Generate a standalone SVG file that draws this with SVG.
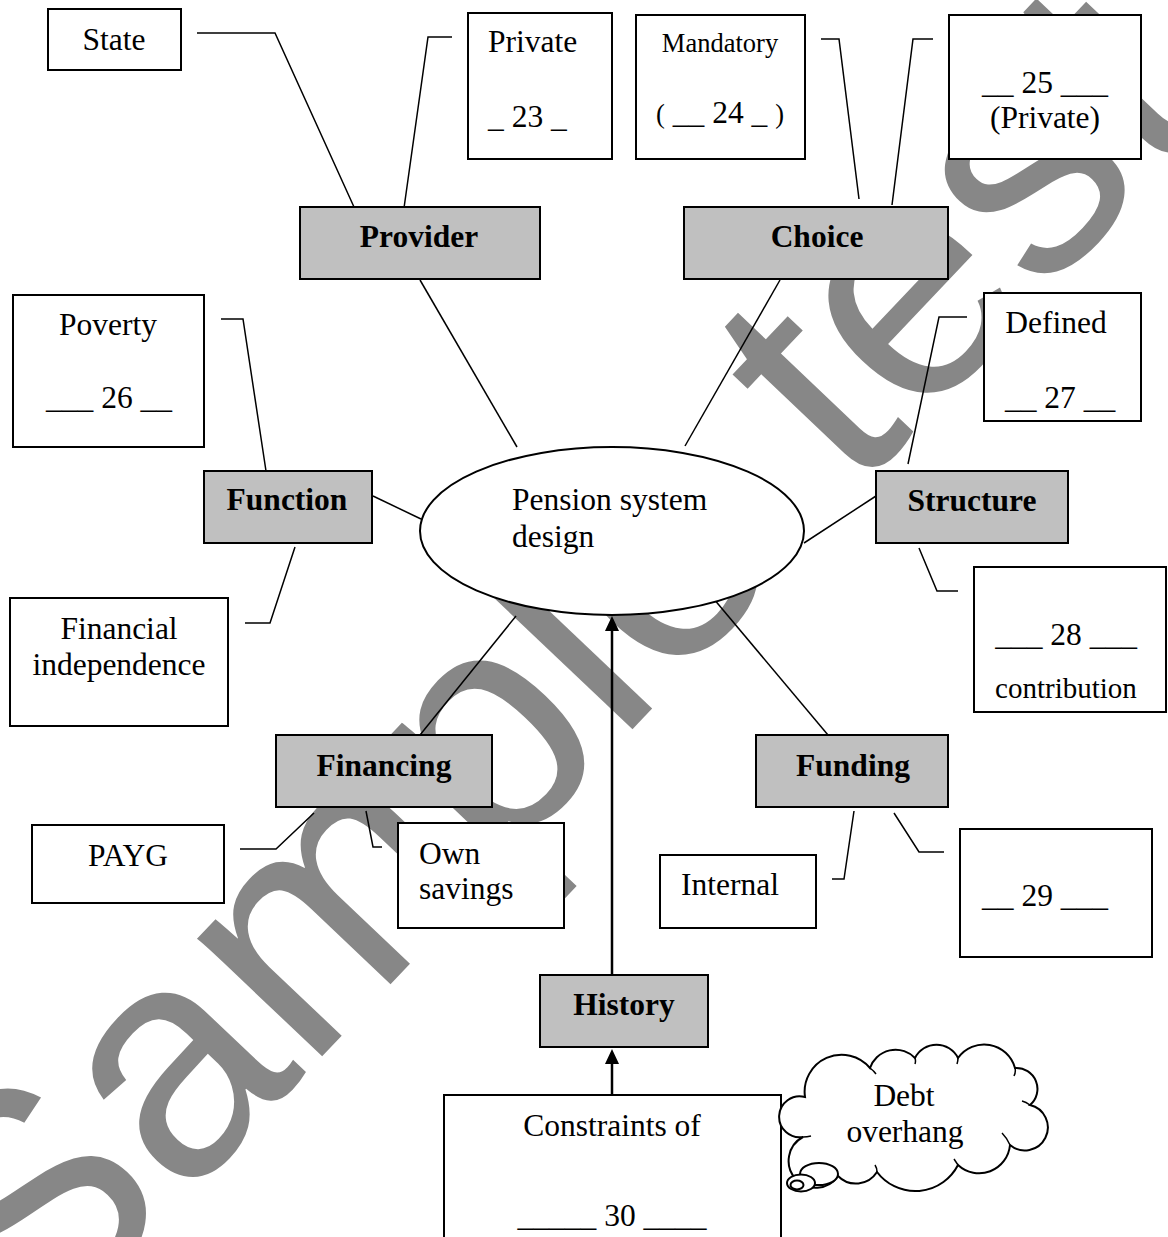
<svg xmlns="http://www.w3.org/2000/svg" width="1168" height="1237" viewBox="0 0 1168 1237">
<style>
.box{fill:#fff;stroke:#000;stroke-width:2}
.cat{fill:#c0c0c0;stroke:#000;stroke-width:2}
.t{font-family:"Liberation Serif","Times New Roman",serif;font-size:31.5px;fill:#000}
.b{font-weight:bold}
.c{text-anchor:middle}
.sm{font-size:26.5px}
.conn{fill:none;stroke:#000;stroke-width:1.5}
.arrow{fill:none;stroke:#000;stroke-width:2.5}
.wm{font-family:"Liberation Sans",Arial,sans-serif;font-size:325px;fill:#878787}
.cloud{fill:#fff;stroke:#000;stroke-width:2}
</style>
<defs>
<marker id="arr" markerUnits="userSpaceOnUse" markerWidth="16" markerHeight="16" refX="1" refY="7" orient="auto">
<path d="M0,0 L15,7 L0,14 z" fill="#000"/>
</marker>
</defs>
<rect width="1168" height="1237" fill="#fff"/>
<text class="wm" transform="translate(33,1361) rotate(-46.5)">Sample test</text>

<g id="connectors">
<polyline class="conn" points="197,33 275,33 354,207"/>
<polyline class="conn" points="452,37 428,37 404,208"/>
<polyline class="conn" points="821,39 839,39 859,199"/>
<polyline class="conn" points="933,39 913,39 892,205"/>
<line class="conn" x1="420" y1="280" x2="517" y2="447"/>
<line class="conn" x1="780" y1="280" x2="685" y2="446"/>
<polyline class="conn" points="221,319 243,319 266,471"/>
<line class="conn" x1="373" y1="496" x2="421" y2="519"/>
<polyline class="conn" points="295,547 270,623 245,623"/>
<polyline class="conn" points="967,317 939,317 908,464"/>
<line class="conn" x1="804" y1="543" x2="876" y2="496"/>
<polyline class="conn" points="919,548 937,591 958,591"/>
<line class="conn" x1="516" y1="616" x2="420" y2="735"/>
<line class="conn" x1="708" y1="592" x2="828" y2="735"/>
<polyline class="conn" points="240,849 276,849 314,813"/>
<polyline class="conn" points="366,811 373,847 382,847"/>
<polyline class="conn" points="854,811 844,879 832,879"/>
<polyline class="conn" points="894,813 919,852 944,852"/>
<line class="arrow" x1="612" y1="975" x2="612" y2="630" marker-end="url(#arr)"/>
<line class="arrow" x1="612" y1="1095" x2="612" y2="1063" marker-end="url(#arr)"/>
</g>

<g id="state"><rect class="box" x="48" y="9" width="133" height="61"/><text class="t c" x="114" y="50">State</text></g>
<g id="private23"><rect class="box" x="468" y="13" width="144" height="146"/><text class="t" x="488" y="52">Private</text><text class="t" x="488" y="127">_ 23 _</text></g>
<g id="mandatory24"><rect class="box" x="636" y="15" width="169" height="144"/><text class="t c sm" x="720" y="52">Mandatory</text><text class="t c" x="720" y="123"><tspan class="sm">(</tspan> __ 24 _ <tspan class="sm">)</tspan></text></g>
<g id="private25"><rect class="box" x="949" y="15" width="192" height="144"/><text class="t c" x="1045" y="93">__ 25 ___</text><text class="t c" x="1045" y="128">(Private)</text></g>
<g id="provider"><rect class="cat" x="300" y="207" width="240" height="72"/><text class="t b c" x="419" y="247">Provider</text></g>
<g id="choice"><rect class="cat" x="684" y="207" width="264" height="72"/><text class="t b c" x="817" y="247">Choice</text></g>
<g id="poverty26"><rect class="box" x="13" y="295" width="191" height="152"/><text class="t c" x="108" y="335">Poverty</text><text class="t c" x="109" y="408">___ 26 __</text></g>
<g id="function"><rect class="cat" x="204" y="471" width="168" height="72"/><text class="t b c" x="287" y="510">Function</text></g>
<g id="financial"><rect class="box" x="10" y="598" width="218" height="128"/><text class="t c" x="119" y="639">Financial</text><text class="t c" x="119" y="675">independence</text></g>
<g id="pension"><ellipse cx="612" cy="531" rx="192" ry="84" fill="#fff" stroke="#000" stroke-width="2"/><text class="t" x="512" y="510">Pension system</text><text class="t" x="512" y="547">design</text></g>
<g id="defined27"><rect class="box" x="984" y="293" width="157" height="128"/><text class="t c" x="1056" y="333">Defined</text><text class="t c" x="1060" y="408">__ 27 __</text></g>
<g id="structure"><rect class="cat" x="876" y="471" width="192" height="72"/><text class="t b c" x="972" y="511">Structure</text></g>
<g id="contribution28"><rect class="box" x="974" y="567" width="192" height="145"/><text class="t c" x="1066" y="645">___ 28 ___</text><text class="t c" x="1066" y="698" style="font-size:29px">contribution</text></g>
<g id="financing"><rect class="cat" x="276" y="735" width="216" height="72"/><text class="t b c" x="384" y="776">Financing</text></g>
<g id="payg"><rect class="box" x="32" y="825" width="192" height="78"/><text class="t c" x="128" y="866">PAYG</text></g>
<g id="ownsavings"><rect class="box" x="398" y="823" width="166" height="105"/><text class="t" x="419" y="864">Own</text><text class="t" x="419" y="899">savings</text></g>
<g id="funding"><rect class="cat" x="756" y="735" width="192" height="72"/><text class="t b c" x="853" y="776">Funding</text></g>
<g id="internal"><rect class="box" x="660" y="855" width="156" height="73"/><text class="t" x="681" y="895">Internal</text></g>
<g id="external29"><rect class="box" x="960" y="829" width="192" height="128"/><text class="t c" x="1045" y="906">__ 29 ___</text></g>
<g id="history"><rect class="cat" x="540" y="975" width="168" height="72"/><text class="t b c" x="624" y="1015">History</text></g>
<g id="constraints30"><rect class="box" x="444" y="1095" width="337" height="170"/><text class="t c" x="612" y="1136">Constraints of</text><text class="t c" x="612" y="1226">_____ 30 ____</text></g>
<g id="debt">
<path class="cloud" d="M805,1097 A37,37 0 0 1 870,1068 A27,27 0 0 1 915,1058 A24,24 0 0 1 958,1058 A32,32 0 0 1 1015,1068 A21,21 0 0 1 1030,1105 A23,23 0 1 1 1010,1145 A31,31 0 0 1 958,1165 A48,48 0 0 1 877,1172 A25,25 0 0 1 838,1176 A27,27 0 1 1 803,1137 A20.5,20.5 0 1 1 805,1097 z"/>
<path class="conn" d="M870,1068 q4,3 6,6 M915,1058 q1,3 0,6 M958,1058 q0,3 -1,6 M1015,1068 q1,4 -1,8 M1030,1105 q-4,-3 -8,-4 M1010,1145 q-3,-7 -8,-12 M958,1165 q-2,-3 -4,-6 M877,1172 q0,-4 -2,-7 M803,1137 q4,0 8,-1"/>
<ellipse cx="819" cy="1174" rx="19" ry="11" class="cloud"/>
<ellipse cx="801" cy="1183" rx="14" ry="8.5" class="cloud"/>
<ellipse cx="797" cy="1185" rx="6.5" ry="4.5" class="cloud"/>
<text class="t c" x="904" y="1106">Debt</text><text class="t c" x="905" y="1142">overhang</text>
</g>
</svg>
